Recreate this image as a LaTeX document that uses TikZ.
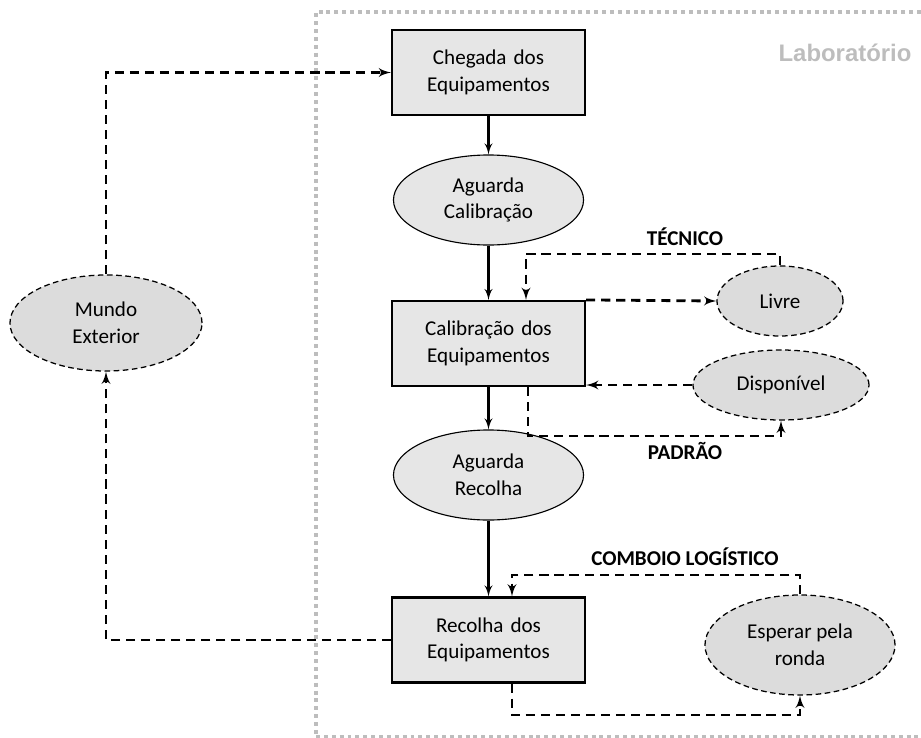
\documentclass[tikz,border=0pt]{standalone}
\usepackage{fontspec}
\setmainfont{Carlito}
\newfontfamily\labfont{Liberation Sans}
\usepackage{tikz}
\usetikzlibrary{shapes}
\usetikzlibrary{arrows}
\usetikzlibrary{shapes.geometric}
\usetikzlibrary{positioning}
\definecolor{caixa}{HTML}{E6E6E6}
\definecolor{estado}{HTML}{DCDCDC}
\definecolor{moldura}{HTML}{BDBDBD}
\tikzstyle{etapa}=[draw, line width=1.5pt, fill=caixa, text width=4.4cm, align=center,
  minimum width=4.825cm, minimum height=2.125cm, font=\fontsize{15}{19}\selectfont]
\tikzstyle{espera}=[draw, ellipse, line width=0.8pt, fill=caixa, align=center,
  minimum width=4.75cm, minimum height=2.25cm, inner sep=0pt, font=\fontsize{15}{19}\selectfont]
\tikzstyle{estado}=[espera, fill=estado, line width=0.9pt, dash pattern=on 4pt off 2.5pt]
\tikzstyle{line} = [draw, line width=1.7pt, -latex']
\tikzstyle{dline} = [draw, line width=2pt, -latex', dash pattern=on 6.5pt off 4.2pt]
\tikzstyle{rotulo} = [font=\fontsize{15}{18}\selectfont\bfseries]

\begin{document}
\begin{tikzpicture}[x=0.025cm,y=-0.025cm]
    \useasboundingbox (0,0) rectangle (921,737);

    % Laboratory frame
    \draw [moldura, line width=2.2pt, dash pattern=on 2.8pt off 2.8pt]
      (921,12) -- (316,12) -- (316,737);
    \draw [moldura, line width=2.2pt, dash pattern=on 2.8pt off 2.8pt]
      (316,737) -- (921,737);
    \node (lab) [text=moldura, font=\labfont\fontsize{17}{20}\selectfont\bfseries]
      at (845,53) {Laboratório};

    % Draw diagram elements
    \node (p0) [etapa] at (488.5,72.5) {Chegada dos\\Equipamentos};
    \node (p1) [espera] at (488.5,200) {Aguarda\\Calibração};
    \node (p2) [etapa] at (488.5,343.5) {Calibração dos\\Equipamentos};
    \node (p3) [espera] at (488.5,475) {Aguarda\\Recolha};
    \node (p4) [etapa] at (488.5,640) {Recolha dos\\Equipamentos};

    \node (o0) [estado, minimum width=3.15cm, minimum height=1.75cm] at (780,301) {Livre};
    \node (o1) [estado, minimum width=4.4cm, minimum height=1.75cm] at (781,385) {Disponível};
    \node (o2) [estado, minimum width=4.75cm, minimum height=2.5cm] at (800,645) {Esperar pela\\ronda};
    \node (o3) [estado, minimum width=4.8cm, minimum height=2.4cm] at (106,323) {Mundo\\Exterior};

    \coordinate (t1) at (526,254);
    \coordinate (t2) at (528,436);
    \coordinate (c1) at (512,575);
    \coordinate (c2) at (512,715);

    \node (tec) [rotulo] at (685,237) {TÉCNICO};
    \node (pad) [rotulo] at (685,451) {PADRÃO};
    \node (com) [rotulo] at (685,557) {COMBOIO LOGÍSTICO};

    % Draw arrows between elements
    \path [line] (p0) -- (p1);
    \path [line] (p1) -- (p2);
    \path [line] (p2) -- (p3);
    \path [line] (p3) -- (p4);

    \path [dline] (o3.north) |- (p0.west);
    \path [dline] (p4.west) -| (o3.south);

    \path [dline] (o0.north) |- (t1) -- (t1 |- p2.north);
    \path [dline] (p2.north east) -- (o0.west);
    \path [dline] (o1.west) -- (o1.west -| p2.east);
    \path [dline] (t2 |- p2.south) -- (t2) -| (o1.south);

    \path [dline] (o2.north) |- (c1) -- (c1 |- p4.north);
    \path [dline] (c2 |- p4.south) -- (c2) -| (o2.south);

\end{tikzpicture}
\end{document}
